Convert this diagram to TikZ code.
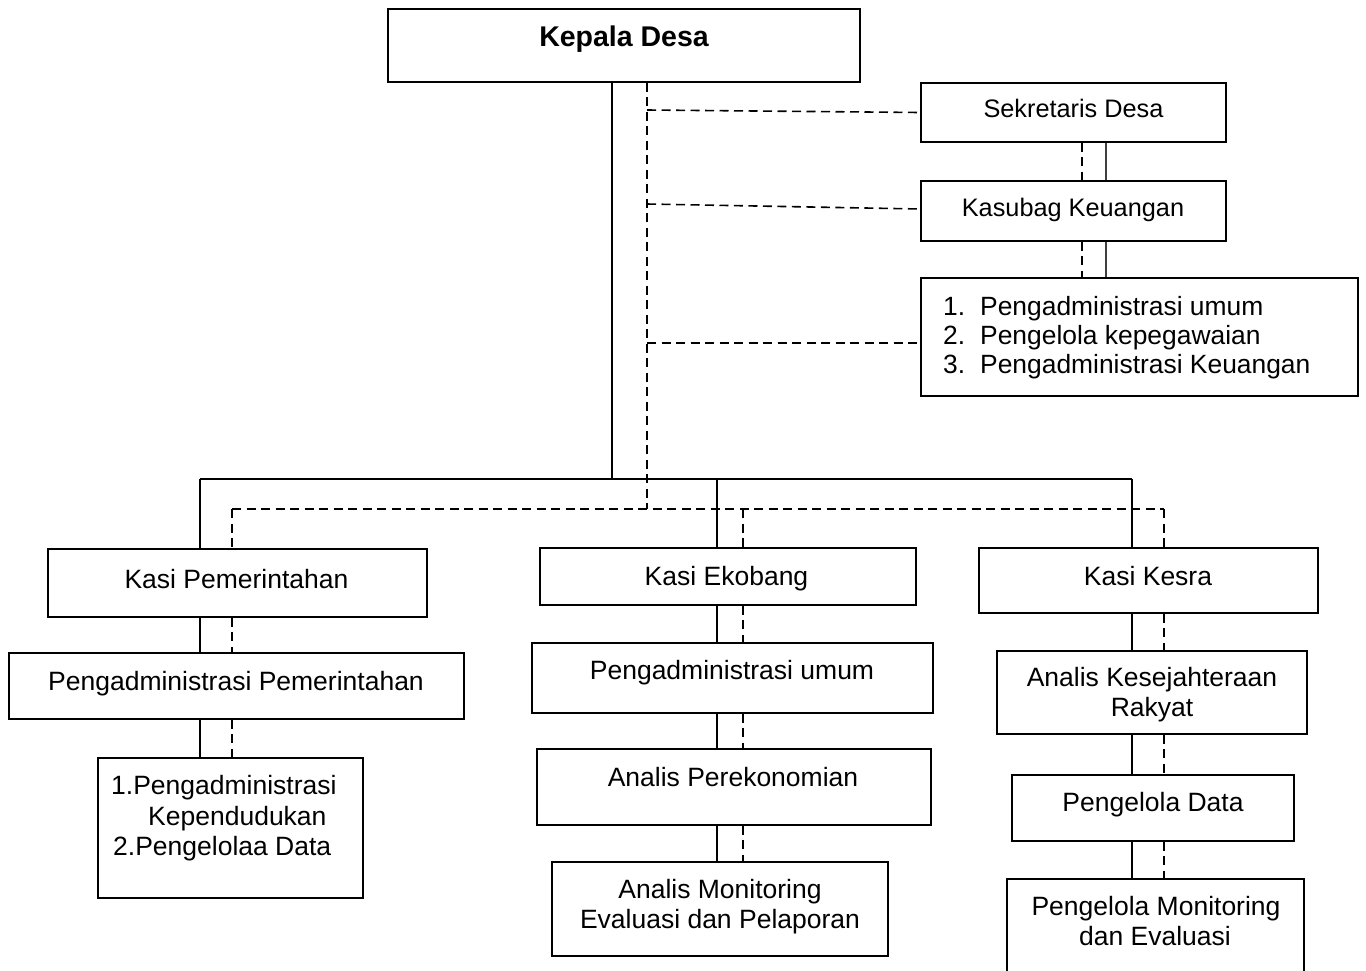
\documentclass[tikz,border=0pt]{standalone}
\usepackage{fontspec}
\setmainfont{Liberation Sans}
\usetikzlibrary{calc}
\begin{document}
\begin{tikzpicture}[x=1pt,y=-1pt,
  box/.style={draw, line width=1.9pt, inner sep=0pt, fill=white},
  solidline/.style={line width=1.6pt},
  thinline/.style={line width=1.2pt, black!75},
  dashline/.style={line width=1.6pt, dash pattern=on 9pt off 5.5pt},
  txt/.style={anchor=base, inner sep=0pt, font=\fontsize{26.5}{30}\selectfont},
  txts/.style={anchor=base, inner sep=0pt, font=\fontsize{25.3}{30}\selectfont},
  txtl/.style={anchor=base west, inner sep=0pt, font=\fontsize{26.4}{30}\selectfont},
  txtb/.style={anchor=base, inner sep=0pt, font=\fontsize{28.5}{30}\selectfont\bfseries}]
\useasboundingbox (0,0) rectangle (1366,970);

% column coordinates
\coordinate (tr) at (612,479);   % solid trunk / bus
\coordinate (td) at (647,509);   % dashed trunk / bus
\coordinate (c1s) at (200,0);
\coordinate (c1d) at (232,0);
\coordinate (c2s) at (717,0);
\coordinate (c2d) at (743,0);
\coordinate (c3s) at (1132,0);
\coordinate (c3d) at (1164,0);
\coordinate (rs) at (1106,0);
\coordinate (rd) at (1082,0);
\coordinate (d1) at (647,110);
\coordinate (d2) at (647,204);
\coordinate (d3) at (647,343);

% boxes
\node[box, minimum width=472, minimum height=73] (kades) at (624,45.5) {};
\node[box, minimum width=305, minimum height=59] (sekdes) at (1073.5,112.5) {};
\node[box, minimum width=305, minimum height=60] (kasubag) at (1073.5,211) {};
\node[box, minimum width=437, minimum height=118] (listu) at (1139.5,337) {};
\node[box, minimum width=379, minimum height=68] (kpem) at (237.5,583) {};
\node[box, minimum width=455, minimum height=66] (ppem) at (236.5,686) {};
\node[box, minimum width=265, minimum height=140] (lpem) at (230.5,828) {};
\node[box, minimum width=376, minimum height=57] (keko) at (728,576.5) {};
\node[box, minimum width=401, minimum height=70] (pumum) at (732.5,678) {};
\node[box, minimum width=394, minimum height=76] (aper) at (734,787) {};
\node[box, minimum width=336, minimum height=94] (amon) at (720,909) {};
\node[box, minimum width=339, minimum height=65] (kkes) at (1148.5,580.5) {};
\node[box, minimum width=310, minimum height=83] (akes) at (1152,692.5) {};
\node[box, minimum width=282, minimum height=66] (pdata) at (1153,808) {};
\node[box, minimum width=297, minimum height=96] (pmon) at (1155.5,927) {};

% solid structure
\draw[solidline] (kades.south -| tr) -- (tr);
\draw[solidline] (c1s |- tr) -- (c3s |- tr);
\draw[solidline] (c1s |- tr) -- (kpem.north -| c1s);
\draw[solidline] (c2s |- tr) -- (keko.north -| c2s);
\draw[solidline] (c3s |- tr) -- (kkes.north -| c3s);
% dashed structure
\draw[dashline] (kades.south -| td) -- (td);
\draw[dashline] (c1d |- td) -- (c3d |- td);
\draw[dashline] (c1d |- td) -- (kpem.north -| c1d);
\draw[dashline] (c2d |- td) -- (keko.north -| c2d);
\draw[dashline] (c3d |- td) -- (kkes.north -| c3d);
\draw[dashline] (d1) -- (sekdes.west);
\draw[dashline] (d2) -- ($(kasubag.west)+(0,-2)$);
\draw[dashline] (d3) -- (d3 -| listu.west);

% right column
\draw[thinline] (sekdes.south -| rs) -- (kasubag.north -| rs);
\draw[dashline] (sekdes.south -| rd) -- (kasubag.north -| rd);
\draw[thinline] (kasubag.south -| rs) -- (listu.north -| rs);
\draw[dashline] (kasubag.south -| rd) -- (listu.north -| rd);

% column 1
\draw[solidline] (kpem.south -| c1s) -- (ppem.north -| c1s);
\draw[dashline] (kpem.south -| c1d) -- (ppem.north -| c1d);
\draw[solidline] (ppem.south -| c1s) -- (lpem.north -| c1s);
\draw[dashline] (ppem.south -| c1d) -- (lpem.north -| c1d);
% column 2
\draw[solidline] (keko.south -| c2s) -- (pumum.north -| c2s);
\draw[dashline] (keko.south -| c2d) -- (pumum.north -| c2d);
\draw[solidline] (pumum.south -| c2s) -- (aper.north -| c2s);
\draw[dashline] (pumum.south -| c2d) -- (aper.north -| c2d);
\draw[solidline] (aper.south -| c2s) -- (amon.north -| c2s);
\draw[dashline] (aper.south -| c2d) -- (amon.north -| c2d);
% column 3
\draw[solidline] (kkes.south -| c3s) -- (akes.north -| c3s);
\draw[dashline] (kkes.south -| c3d) -- (akes.north -| c3d);
\draw[solidline] (akes.south -| c3s) -- (pdata.north -| c3s);
\draw[dashline] (akes.south -| c3d) -- (pdata.north -| c3d);
\draw[solidline] (pdata.south -| c3s) -- (pmon.north -| c3s);
\draw[dashline] (pdata.south -| c3d) -- (pmon.north -| c3d);

% texts
\node[txtb] (t1) at (624,46) {Kepala Desa};
\node[txts] (t2) at (1073.5,117) {Sekretaris Desa};
\node[txts] (t3) at (1073,216) {Kasubag Keuangan};
\node[txtl] (t4) at (943,315) {\makebox[37pt][l]{1.}Pengadministrasi umum};
\node[txtl] (t5) at (943,344) {\makebox[37pt][l]{2.}Pengelola kepegawaian};
\node[txtl] (t6) at (943,373) {\makebox[37pt][l]{3.}Pengadministrasi Keuangan};
\node[txt] (t7) at (236.5,588) {Kasi Pemerintahan};
\node[txt] (t8) at (236,690) {Pengadministrasi Pemerintahan};
\node[txt, anchor=base west] (t9) at (111,794) {1.Pengadministrasi};
\node[txt, anchor=base west] (t10) at (148,825) {Kependudukan};
\node[txt, anchor=base west] (t11) at (113,855) {2.Pengelolaa Data};
\node[txt] (t12) at (726.5,585) {Kasi Ekobang};
\node[txt] (t13) at (732,679) {Pengadministrasi umum};
\node[txt] (t14) at (733,786) {Analis Perekonomian};
\node[txt] (t15) at (720,898) {Analis Monitoring};
\node[txt] (t16) at (720,928) {Evaluasi dan Pelaporan};
\node[txt] (t17) at (1148,585.5) {Kasi Kesra};
\node[txt] (t18) at (1152,686) {Analis Kesejahteraan};
\node[txt] (t19) at (1152,716) {Rakyat};
\node[txt] (t20) at (1153,811) {Pengelola Data};
\node[txt] (t21) at (1156,915) {Pengelola Monitoring};
\node[txt] (t22) at (1155,945) {dan Evaluasi};
\end{tikzpicture}
\end{document}
